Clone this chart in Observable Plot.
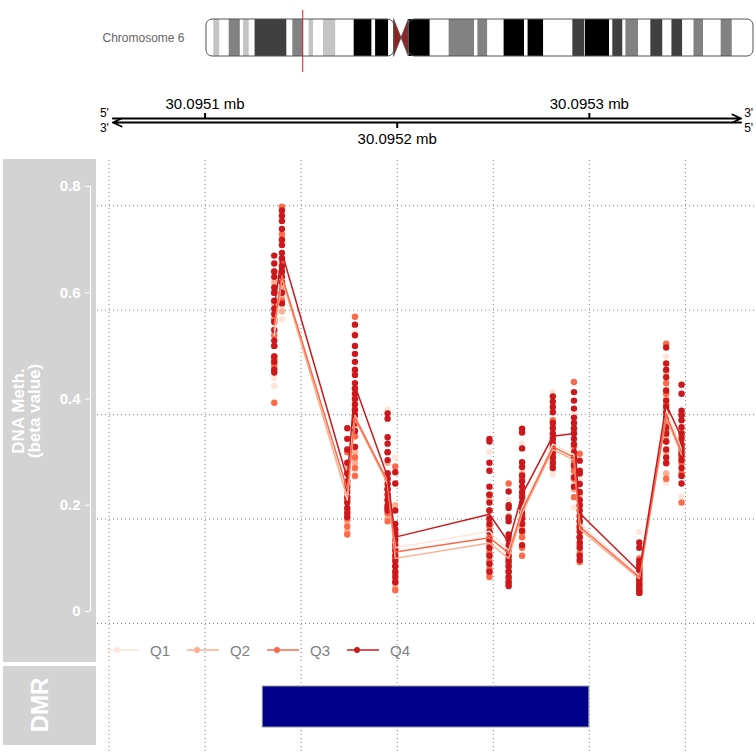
<!DOCTYPE html>
<html><head><meta charset="utf-8">
<script src="https://cdn.jsdelivr.net/npm/d3@7"></script>
<script src="https://cdn.jsdelivr.net/npm/@observablehq/plot@0.6"></script>
<style>
body{margin:0;background:#fff;font-family:"Liberation Sans",Arial,Helvetica,sans-serif;}
#page{position:relative;width:756px;height:752px;overflow:hidden;background:#fff;}
.panel{position:absolute;background:#d3d3d3;}
.vlabel{position:absolute;color:#fff;font-weight:bold;text-align:center;white-space:nowrap;transform:translate(-50%,-50%) rotate(-90deg);}
.holder{position:absolute;left:0;}
</style></head><body><div id="page"></div>
<script>
// ---------------- data ----------------
const chromosomeName = "Chromosome 6";
const chrLengthMb = 171.115;
const bandEdgesMb = [0,2.3,4.2,7.1,10.6,11.6,13.4,15.2,25.2,27.0,30.4,32.1,33.5,36.6,40.5,46.2,51.8,52.9,57.0,58.7,61.0,63.3,63.4,70.0,75.9,83.9,84.9,88.0,93.1,99.5,100.6,105.5,114.6,118.3,118.5,126.1,127.1,130.3,131.2,135.2,139.0,142.8,145.6,149.0,152.5,155.5,161.0,164.5,171.115];
const bandStains = ["gneg","gpos25","gneg","gpos50","gneg","gpos25","gneg","gpos75","gneg","gpos50",
  "gneg","gpos25","gneg","gpos25","gneg","gpos100","gneg","gpos100","gneg","acen",
  "acen","gvar","gpos100","gneg","gpos50","gneg","gpos50","gneg","gpos100","gneg",
  "gpos100","gneg","gpos75","gneg","gpos100","gneg","gpos75","gneg","gpos50","gneg",
  "gpos75","gneg","gpos75","gneg","gpos50","gneg","gpos50","gneg"];
const stainColors = {gneg:"#ffffff", gpos25:"#c4c4c4", gpos50:"#828282", gpos75:"#404040", gpos100:"#000000", gvar:"#e0e0e0"};

const viewStart = 30095044, viewEnd = 30095387;     // bp shown
const axisStart = 30095052, axisEnd = 30095379;     // genome axis arrows
const axisTicksTop = [30095100, 30095300];
const axisTicksBottom = [30095200];
const gridX = [30095050, 30095100, 30095150, 30095200, 30095250, 30095300, 30095350];
const gridY = [-0.0226, 0.1740, 0.3706, 0.5672, 0.7638];
const yTicks = [0, 0.2, 0.4, 0.6, 0.8];
const yDomain = [-0.096, 0.849];

const groups = ["Q1","Q2","Q3","Q4"];
const groupColors = ["#FEE5D9","#FCAE91","#FB6A4A","#CB181D"];

const cpgPos = [30095136,30095140,30095174,30095178,30095195,30095199,30095248,30095258,30095265,30095281,30095292,30095295,30095326,30095340,30095348];

const q1Values = [
 [0.60,0.56,0.52,0.50,0.44,0.425],
 [0.69,0.64,0.62,0.60,0.575,0.55],
 [0.28,0.24,0.21,0.19,0.17],
 [0.525,0.40,0.36,0.34,0.31,0.265],
 [0.38,0.25,0.22,0.20,0.18],
 [0.29,0.15,0.12,0.10,0.08,0.06],
 [0.30,0.19,0.16,0.14,0.12,0.10,0.08],
 [0.21,0.13,0.11,0.095,0.08,0.065],
 [0.316,0.22,0.19,0.17,0.15],
 [0.413,0.33,0.31,0.29,0.258],
 [0.37,0.31,0.29,0.27,0.24,0.196],
 [0.25,0.19,0.16,0.14,0.12,0.10],
 [0.15,0.08,0.065,0.055,0.045,0.04],
 [0.48,0.42,0.39,0.37,0.35,0.32,0.243],
 [0.36,0.32,0.30,0.28,0.216]];
const q2Values = [
 [0.62,0.58,0.55,0.50,0.47,0.46],
 [0.70,0.65,0.63,0.61,0.59,0.565],
 [0.27,0.23,0.21,0.19,0.17,0.15],
 [0.45,0.40,0.37,0.35,0.33,0.30,0.28],
 [0.28,0.25,0.23,0.21,0.19,0.175],
 [0.20,0.13,0.11,0.09,0.075,0.06,0.045],
 [0.21,0.17,0.15,0.13,0.11,0.09,0.07],
 [0.18,0.12,0.10,0.09,0.08,0.065,0.055],
 [0.26,0.22,0.20,0.18,0.16,0.14],
 [0.35,0.32,0.305,0.295,0.285,0.27],
 [0.34,0.30,0.285,0.27,0.25,0.23],
 [0.22,0.18,0.16,0.14,0.125,0.105],
 [0.09,0.075,0.065,0.055,0.045,0.038],
 [0.45,0.40,0.38,0.36,0.345,0.33,0.30,0.26],
 [0.34,0.31,0.30,0.29,0.28,0.26]];
const q3Values = [
 [0.64,0.60,0.55,0.52,0.48,0.475,0.465,0.393],
 [0.762,0.71,0.66,0.64,0.62,0.60,0.585],
 [0.30,0.24,0.21,0.19,0.175,0.16,0.145],
 [0.555,0.42,0.38,0.36,0.33,0.31,0.29,0.27,0.255],
 [0.30,0.26,0.23,0.21,0.195,0.185,0.17],
 [0.273,0.15,0.12,0.10,0.085,0.07,0.055,0.04],
 [0.22,0.19,0.16,0.14,0.125,0.11,0.095,0.08,0.065],
 [0.241,0.14,0.12,0.10,0.09,0.075,0.06,0.05],
 [0.25,0.22,0.20,0.18,0.165,0.15,0.14,0.12,0.105],
 [0.36,0.33,0.32,0.31,0.30,0.29,0.275],
 [0.432,0.31,0.29,0.28,0.265,0.25,0.215],
 [0.297,0.20,0.17,0.155,0.14,0.125,0.11,0.093],
 [0.10,0.08,0.07,0.06,0.05,0.04,0.035],
 [0.504,0.43,0.41,0.39,0.37,0.355,0.34,0.32,0.28,0.25],
 [0.37,0.33,0.31,0.30,0.29,0.28,0.26,0.205]];
const q4Values = [
 [0.67,0.655,0.64,0.63,0.61,0.60,0.585,0.57,0.56,0.545,0.53,0.51,0.50,0.48,0.47,0.455,0.45],
 [0.755,0.745,0.735,0.72,0.70,0.69,0.675,0.665,0.65,0.64,0.63,0.62,0.60,0.58],
 [0.345,0.325,0.305,0.28,0.26,0.245,0.235,0.225,0.215,0.205,0.195,0.185,0.178],
 [0.54,0.52,0.50,0.485,0.47,0.455,0.445,0.43,0.42,0.41,0.40,0.39,0.38,0.37,0.355,0.34,0.31],
 [0.373,0.363,0.328,0.316,0.30,0.285,0.26,0.25,0.24,0.23,0.22,0.21,0.20,0.195,0.19],
 [0.262,0.241,0.19,0.165,0.155,0.145,0.135,0.125,0.115,0.105,0.095,0.085,0.075,0.065,0.055],
 [0.325,0.32,0.28,0.265,0.235,0.22,0.205,0.19,0.175,0.165,0.15,0.135,0.12,0.105,0.09,0.075],
 [0.226,0.20,0.195,0.177,0.17,0.145,0.135,0.125,0.115,0.105,0.095,0.085,0.075,0.065,0.055,0.048],
 [0.344,0.337,0.307,0.281,0.272,0.256,0.245,0.235,0.225,0.215,0.205,0.195,0.185,0.175,0.165,0.152,0.125],
 [0.405,0.395,0.385,0.375,0.355,0.345,0.335,0.325,0.315,0.305,0.30,0.29,0.28,0.27],
 [0.413,0.397,0.382,0.365,0.355,0.345,0.335,0.325,0.315,0.30,0.29,0.275,0.253,0.235],
 [0.284,0.265,0.26,0.24,0.225,0.21,0.20,0.19,0.18,0.17,0.16,0.15,0.14,0.13,0.12,0.105,0.097],
 [0.13,0.12,0.095,0.088,0.082,0.076,0.07,0.064,0.058,0.052,0.046,0.04,0.035],
 [0.497,0.467,0.455,0.441,0.416,0.397,0.385,0.375,0.365,0.347,0.335,0.32,0.305,0.29,0.279],
 [0.427,0.41,0.378,0.37,0.36,0.347,0.335,0.325,0.315,0.305,0.295,0.285,0.27,0.255,0.241]];

const q1Mean = [0.52,0.63,0.21,0.369,0.245,0.12,0.151,0.115,0.195,0.315,0.295,0.165,0.068,0.38,0.305];
const q2Mean = [0.53,0.627,0.215,0.363,0.24,0.10,0.129,0.10,0.185,0.305,0.285,0.155,0.062,0.365,0.295];
const q3Mean = [0.54,0.632,0.23,0.366,0.245,0.112,0.139,0.11,0.19,0.31,0.29,0.16,0.065,0.37,0.30];
const q4Mean = [0.57,0.676,0.25,0.425,0.253,0.14,0.183,0.13,0.22,0.33,0.335,0.185,0.075,0.39,0.327];

const dmrStart = [30095130];
const dmrEnd = [30095300];

// ---------------- build ----------------
const FONT = "'Liberation Sans', Arial, Helvetica, sans-serif";
const page = document.getElementById("page");
function place(node, top) {
  const d = document.createElement("div");
  d.className = "holder"; d.style.top = top + "px";
  d.appendChild(node); page.appendChild(d); return d;
}
function panel(left, top, w, h) {
  const d = document.createElement("div");
  d.className = "panel";
  Object.assign(d.style, {left: left+"px", top: top+"px", width: w+"px", height: h+"px"});
  page.appendChild(d);
}
function vlabel(html, cx, cy, size, lh) {
  const d = document.createElement("div");
  d.className = "vlabel"; d.innerHTML = html;
  Object.assign(d.style, {left: cx+"px", top: cy+"px", fontSize: size+"px", lineHeight: lh+"px"});
  page.appendChild(d);
}

// gray title panels
panel(3, 159, 93, 503);
panel(3, 666, 93, 79);
vlabel("DNA Meth.<br>(beta value)", 27, 411, 17, 16);
vlabel("DMR", 40, 705, 24, 24);

// ideogram
const bands = bandStains.map((s, i) => ({start: bandEdgesMb[i]*1e6, end: bandEdgesMb[i+1]*1e6, stain: s}));
const acen = bands.filter(b => b.stain === "acen");
const centro = [
  {pos: acen[0].start, lo: 0, hi: 1},
  {pos: acen[0].end, lo: 0.5, hi: 0.5},
  {pos: acen[1].end, lo: 0, hi: 1}];
const arms = [{start: 0, end: acen[0].start}, {start: acen[1].end, end: chrLengthMb*1e6}];
const ideo = Plot.plot({
  width: 756, height: 76, marginLeft: 0, marginRight: 0, marginTop: 0, marginBottom: 0,
  style: {background: "transparent", fontFamily: FONT},
  x: {domain: [0, chrLengthMb*1e6], range: [206, 753], axis: null},
  y: {domain: [0, 1], range: [56, 19], axis: null},
  marks: [
    Plot.rect(bands.filter(b => b.stain !== "acen"), {x1: "start", x2: "end", y1: 0, y2: 1, fill: d => stainColors[d.stain]}),
    Plot.areaY(centro, {x: "pos", y1: "lo", y2: "hi", fill: "#8B2525", stroke: "#555", strokeWidth: 0.8}),
    Plot.rect(arms, {x1: "start", x2: "end", y1: 0, y2: 1, rx: 6, fill: "none", stroke: "#555", strokeWidth: 1}),
    Plot.ruleX([(viewStart + viewEnd) / 2], {stroke: "#e8202a", strokeWidth: 1, insetTop: 10, insetBottom: 4}),
    Plot.text([chromosomeName], {frameAnchor: "left", dx: 184, textAnchor: "end", fill: "#666", fontSize: 12})
  ]
});
place(ideo, 0);

// genome axis
const fmtMb = d => (d / 1e6).toFixed(4) + " mb";
const gaxis = Plot.plot({
  width: 756, height: 80, marginLeft: 97, marginRight: 0, marginTop: 43, marginBottom: 33,
  style: {background: "transparent", fontFamily: FONT, color: "#000"},
  x: {domain: [viewStart, viewEnd], axis: null},
  y: {domain: [0, 1], axis: null},
  marks: [
    Plot.axisX(axisTicksTop, {anchor: "top", tickSize: 6, tickPadding: 4, tickFormat: fmtMb, fontSize: 15, color: "#000", strokeWidth: 2, label: null}),
    Plot.axisX(axisTicksBottom, {anchor: "bottom", tickSize: 6, tickPadding: 5, tickFormat: fmtMb, fontSize: 15, color: "#000", strokeWidth: 2, label: null}),
    Plot.arrow([0], {x1: axisStart, x2: axisEnd, y1: 1, y2: 1, stroke: "#000", strokeWidth: 1.8, headLength: 8, headAngle: 50}),
    Plot.arrow([0], {x1: axisEnd, x2: axisStart, y1: 0, y2: 0, stroke: "#000", strokeWidth: 1.8, headLength: 8, headAngle: 50}),
    Plot.text(["5'"], {x: axisStart, y: 1, dx: -4, dy: -5, textAnchor: "end", fontSize: 12, fill: "#000"}),
    Plot.text(["3'"], {x: axisStart, y: 0, dx: -4, dy: 6, textAnchor: "end", fontSize: 12, fill: "#000"}),
    Plot.text(["3'"], {x: axisEnd, y: 1, dx: 3, dy: -5, textAnchor: "start", fontSize: 12, fill: "#000"}),
    Plot.text(["5'"], {x: axisEnd, y: 0, dx: 3, dy: 6, textAnchor: "start", fontSize: 12, fill: "#000"})
  ]
});
place(gaxis, 75);

// data track
const valueSets = [q1Values, q2Values, q3Values, q4Values];
const meanSets = [q1Mean, q2Mean, q3Mean, q4Mean];
const points = [];
groups.forEach((g, gi) => valueSets[gi].forEach((vals, i) => vals.forEach(v => points.push({group: g, pos: cpgPos[i], value: v}))));
const means = [];
groups.forEach((g, gi) => meanSets[gi].forEach((m, i) => means.push({group: g, pos: cpgPos[i], mean: m})));

const dataPlot = Plot.plot({
  width: 756, height: 502, marginLeft: 97, marginRight: 0, marginTop: 0, marginBottom: 0,
  style: {background: "transparent", fontFamily: FONT},
  x: {domain: [viewStart, viewEnd], axis: null},
  y: {domain: yDomain, axis: null},
  color: {domain: groups, range: groupColors},
  marks: [
    Plot.ruleX(gridX, {stroke: "#808080", strokeDasharray: "1,3"}),
    Plot.ruleY(gridY, {stroke: "#808080", strokeDasharray: "1,3"}),
    Plot.axisY(yTicks, {anchor: "left", dx: -7, tickSize: 5, tickPadding: 5, color: "white", fontWeight: "bold", fontSize: 15,
      tickFormat: d => d === 0 ? "0" : d.toFixed(1), label: null}),
    Plot.ruleX([viewStart], {y1: yTicks[0], y2: yTicks[yTicks.length - 1], dx: -7, stroke: "white", strokeWidth: 1.2}),
    Plot.dot(points, {x: "pos", y: "value", fill: "group", r: 3.2}),
    Plot.line(means, {x: "pos", y: "mean", stroke: "group", z: "group", strokeWidth: 1.5})
  ]
});
place(dataPlot, 160);

// legend
const legend = document.createElement("div");
Object.assign(legend.style, {position: "absolute", left: "0px", top: "640px", width: "756px", height: "20px"});
const ns = "http://www.w3.org/2000/svg";
const lsvg = document.createElementNS(ns, "svg");
lsvg.setAttribute("width", 756); lsvg.setAttribute("height", 20);
groups.forEach((g, i) => {
  const cx = 117 + i * 80;
  const line = document.createElementNS(ns, "line");
  line.setAttribute("x1", cx - 10); line.setAttribute("x2", cx + 22);
  line.setAttribute("y1", 10); line.setAttribute("y2", 10);
  line.setAttribute("stroke", groupColors[i]); line.setAttribute("stroke-width", 2); line.setAttribute("stroke-opacity", 0.75);
  lsvg.appendChild(line);
  const c = document.createElementNS(ns, "circle");
  c.setAttribute("cx", cx); c.setAttribute("cy", 10); c.setAttribute("r", 3);
  c.setAttribute("fill", groupColors[i]);
  lsvg.appendChild(c);
  const t = document.createElementNS(ns, "text");
  t.setAttribute("x", cx + 33); t.setAttribute("y", 15.5);
  t.setAttribute("fill", "#808080"); t.setAttribute("font-size", 15); t.setAttribute("font-family", FONT);
  t.textContent = g;
  lsvg.appendChild(t);
});
legend.appendChild(lsvg);
page.appendChild(legend);

// DMR track
const dmr = dmrStart.map((s, i) => ({start: s, end: dmrEnd[i]}));
const dmrPlot = Plot.plot({
  width: 756, height: 86, marginLeft: 97, marginRight: 0, marginTop: 0, marginBottom: 0,
  style: {background: "transparent", fontFamily: FONT},
  x: {domain: [viewStart, viewEnd], axis: null},
  marks: [
    Plot.ruleX(gridX, {stroke: "#808080", strokeDasharray: "1,3"}),
    Plot.rect(dmr, {x1: "start", x2: "end", insetTop: 20, insetBottom: 25, fill: "#00008B", stroke: "#9a9a9a", strokeWidth: 1})
  ]
});
place(dmrPlot, 666);
</script></body></html>
